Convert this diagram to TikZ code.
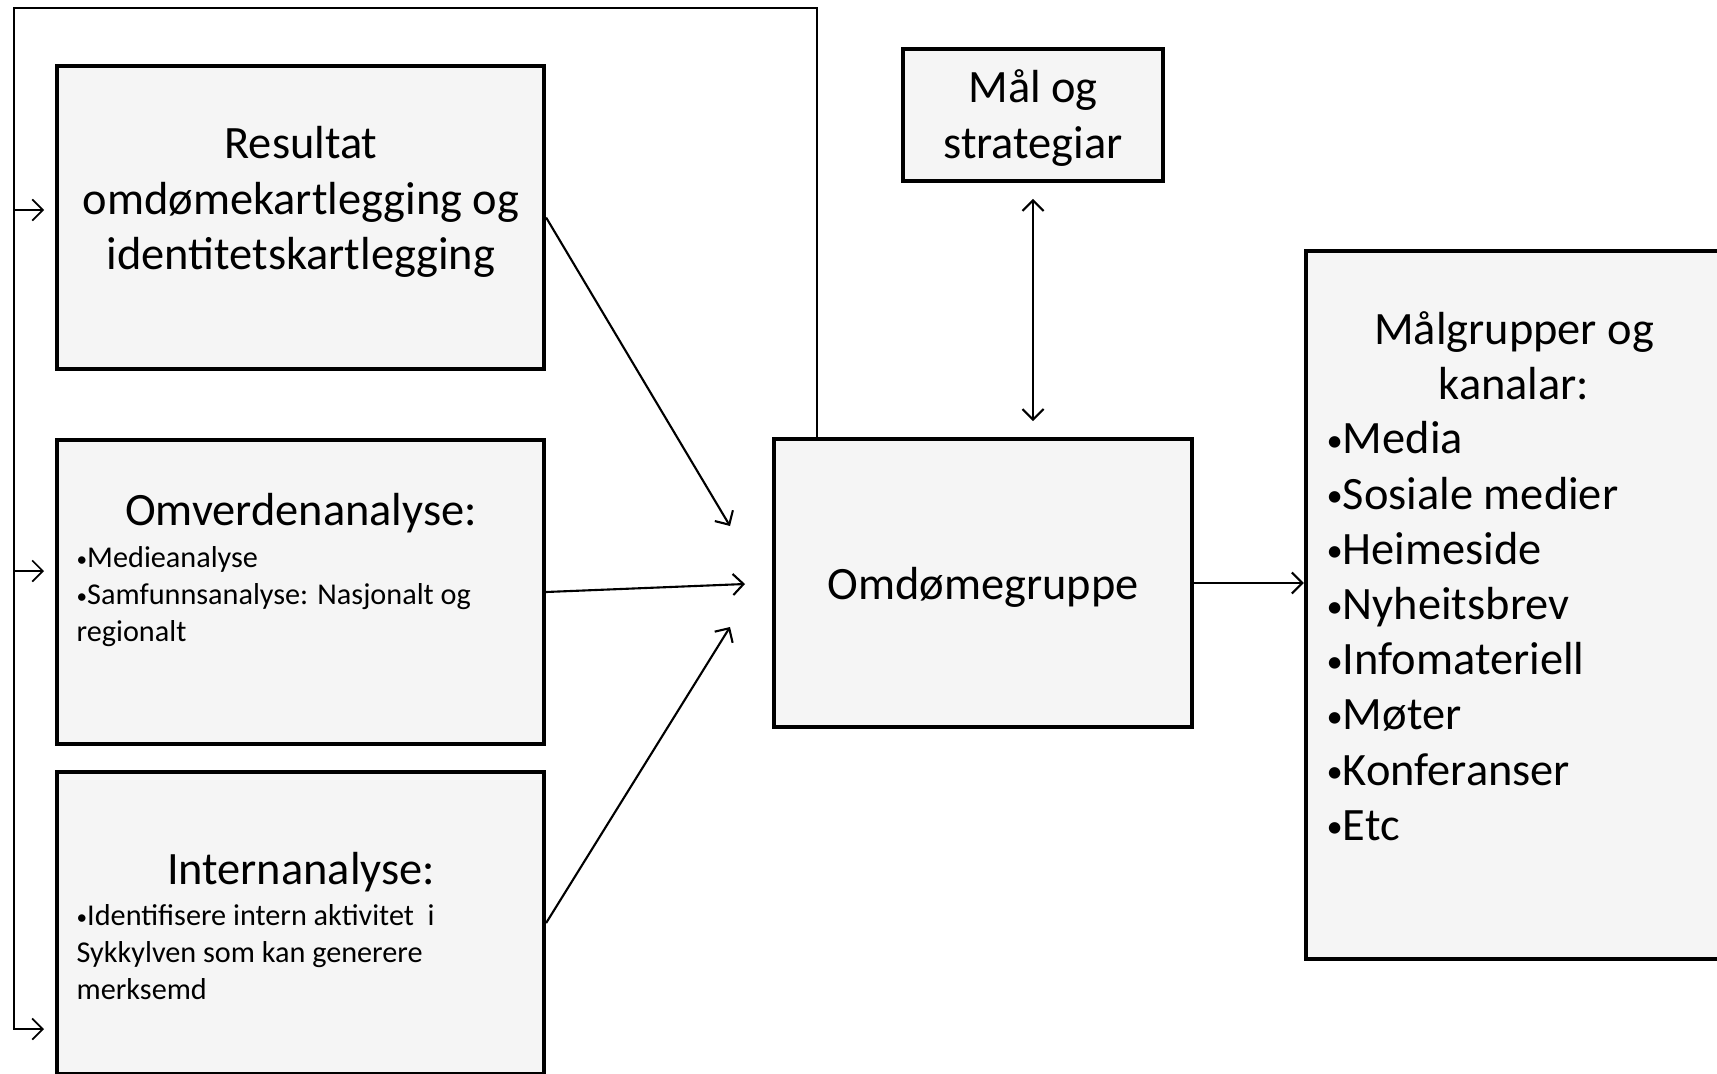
\documentclass[tikz,border=0pt]{standalone}
\usepackage{fontspec}
\setmainfont{Carlito}
\usetikzlibrary{arrows.meta,calc}

\newcommand{\bul}{\raisebox{0.05em}{\scalebox{0.7}{•}}}

\tikzset{
  box/.style={draw,line width=1.2pt,fill=black!4,inner sep=0pt},
  big/.style={font=\fontsize{13.2}{15.7}\selectfont},
  small/.style={font=\fontsize{8.6}{10.5}\selectfont},
  txt/.style={inner sep=0pt},
  link/.style={->,line width=0.6pt},
  fb/.style={line width=0.5pt},
}

\begin{document}
\begin{tikzpicture}[x=0.1mm,y=-0.1mm,>={Straight Barb[length=3pt,width=6pt]}]
  \useasboundingbox (0,0) rectangle (1717,1073);
  \clip (0,0) rectangle (1717,1073);
  \fill[white] (0,0) rectangle (1717,1073);

  % boxes
  \node[box,minimum width=48.7mm,minimum height=30.3mm] (res) at (300.5,217.5) {};
  \node[box,minimum width=48.7mm,minimum height=30.4mm] (omv) at (300.5,592) {};
  \node[box,minimum width=48.7mm,minimum height=30.2mm] (int) at (300.5,923) {};
  \node[box,minimum width=26mm,minimum height=13.2mm] (maal) at (1033,115) {};
  \node[box,minimum width=41.8mm,minimum height=28.8mm] (omd) at (983,583) {};
  \node[box,minimum width=45mm,minimum height=70.8mm] (mg) at (1531,605) {};

  % texts
  \node[txt,big,align=center,anchor=north] (restxt) at (301,126) {Resultat\\omdømekartlegging og\\identitetskartlegging};
  \node[txt,big,anchor=base] (omvtit) at (301,525) {Omverdenanalyse:};
  \node[txt,small,align=left,anchor=north west] (omvtxt) at (76,546) {\bul Medieanalyse\\\bul Samfunnsanalyse: Nasjonalt og\\regionalt};
  \node[txt,big,anchor=base] (inttit) at (301,884) {Internanalyse:};
  \node[txt,small,align=left,anchor=north west] (inttxt) at (76,904) {\bul Identifisere intern aktivitet~ i\\Sykkylven som kan generere\\merksemd};
  \node[txt,big,align=center] (maaltxt) at (1033,118) {Mål og\\strategiar};
  \node[txt,big] (omdtxt) at (983,587) {Omdømegruppe};
  \node[txt,big,align=center,anchor=north] (mgtit) at (1514,311) {Målgrupper og\\kanalar:};
  \node[txt,big,align=left,anchor=north west] (mgtxt) at (1326,421) {\bul Media\\\bul Sosiale medier\\\bul Heimeside\\\bul Nyheitsbrev\\\bul Infomateriell\\\bul Møter\\\bul Konferanser\\\bul Etc};

  % feedback loop
  \coordinate (fbl) at (14,8);
  \coordinate (fbr) at (817,8);
  \coordinate (inA) at (44,210);
  \coordinate (inB) at (44,571);
  \coordinate (inC) at (44,1029);
  \draw[fb,->] (omd.north -| fbr) -- (fbr) -- (fbl) |- (inC);
  \draw[fb,->] (fbl |- inA) -- (inA);
  \draw[fb,->] (fbl |- inB) -- (inB);

  % inputs
  \coordinate (endA) at (730,526);
  \coordinate (endB) at (745,584);
  \coordinate (endC) at (730,627);
  \draw[link] (res.east) -- (endA);
  \draw[link] (omv.east) -- (endB);
  \draw[link] (int.east) -- (endC);

  \draw[link,<->,shorten <=4.5pt,shorten >=4.5pt] (maal.south) -- (maal.south |- omd.north);
  \draw[link] (omd.east) -- (omd.east -| mg.west);
\end{tikzpicture}
\end{document}
